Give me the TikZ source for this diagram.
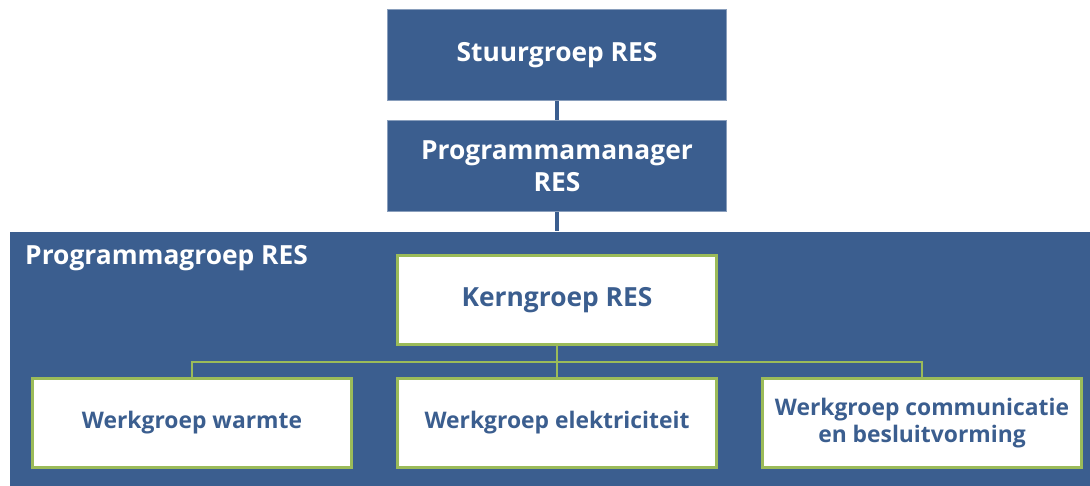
\documentclass[tikz,border=0pt]{standalone}
\usepackage{fontspec}
\setmainfont{Open Sans}
\usepackage{tikz}
\usetikzlibrary{positioning}
\definecolor{resblue}{RGB}{59,94,143}
\definecolor{resgreen}{RGB}{155,187,89}

\begin{document}
\begin{tikzpicture}[
    x = 0.02cm, y = -0.02cm,
    font = \bfseries,
    topbox/.style = {fill=resblue, draw=resblue!60!white, thin, text=white,
        minimum width=6.78cm, minimum height=1.82cm, align=center,
        inner sep=0mm, font=\bfseries\fontsize{15}{18}\selectfont},
    wbox/.style = {fill=white, draw=resgreen, line width=1.6pt, text=resblue,
        minimum width=6.38cm, minimum height=1.78cm, align=center,
        inner sep=0mm, font=\bfseries\fontsize{13}{15.3}\selectfont},
    topline/.style = {draw=resblue, line width=1.8pt},
    treeline/.style = {draw=resgreen, line width=1.2pt}
  ]
  \useasboundingbox (0,0) rectangle (1090,486);

  % programmagroep
  \node[fill=resblue, minimum width=21.6cm, minimum height=5.1cm,
        inner sep=0mm] (groep) at (550,359) {};
  \node[text=white, font=\bfseries\fontsize{15}{18}\selectfont, anchor=west]
        (groeplabel) at (19,258) {Programmagroep RES};

  \node[topbox] (stuur) at (557,55) {Stuurgroep RES};
  \node[topbox] (manager) at (557,166) {Programmamanager\\RES};

  \draw[topline] (stuur) -- (manager);
  \draw[topline] (manager.south) -- (manager.south |- groep.north);

  % kerngroep en werkgroepen
  \node[wbox, font=\bfseries\fontsize{15}{18}\selectfont] (kern) at (557,300) {Kerngroep RES};
  \node[wbox] (warmte) at (192,423) {Werkgroep warmte};
  \node[wbox] (elek) at (557,423) {Werkgroep elektriciteit};
  \node[wbox] (comm) at (922,423) {Werkgroep communicatie\\en besluitvorming};

  \coordinate (split) at (557,362);
  \draw[treeline] (kern) -- (split);
  \draw[treeline] (split) -- (elek);
  \draw[treeline] (split) -| (warmte);
  \draw[treeline] (split) -| (comm);
\end{tikzpicture}
\end{document}
